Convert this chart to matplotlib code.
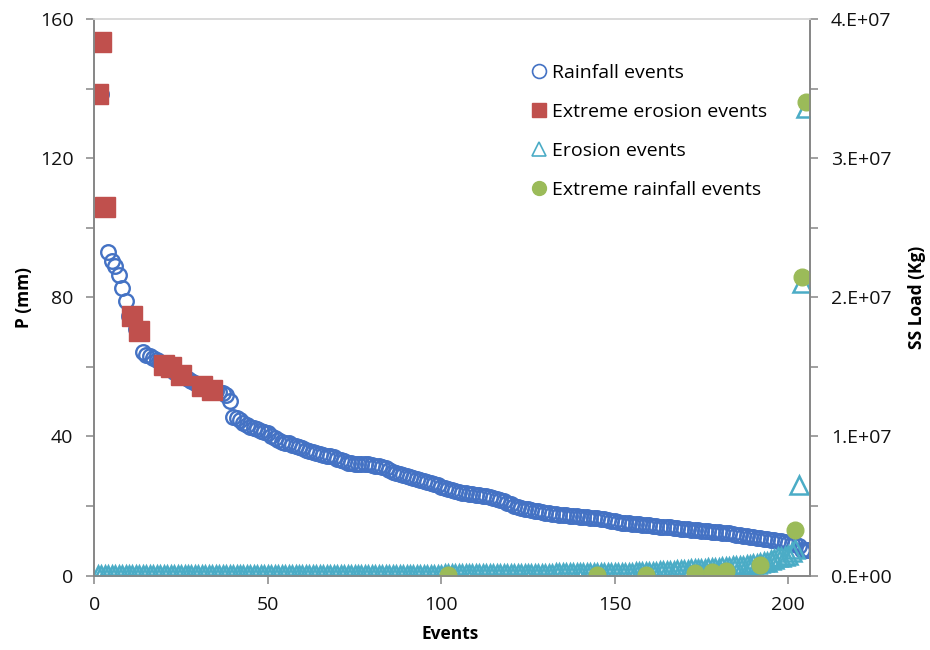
import matplotlib
matplotlib.use('Agg')
import matplotlib.pyplot as plt
from matplotlib.lines import Line2D
from matplotlib.ticker import MultipleLocator, FuncFormatter

plt.rcParams['font.family'] = ['Open Sans', 'DejaVu Sans']

# rainfall depth of each event, ranked (mm)
rain_p = [
    153.5, 138.5, 106.0, 93.0, 90.3, 88.9, 86.5, 82.7, 79.0, 74.5,
    74.0, 71.0, 70.2, 64.4, 63.5, 63.0, 62.5, 62.0, 61.5, 60.5,
    60.0, 59.5, 58.5, 57.8, 57.5, 57.0, 56.5, 56.0, 55.5, 55.0,
    54.5, 54.0, 53.8, 53.4, 53.0, 52.8, 52.5, 52.0, 50.3, 45.7,
    45.3, 44.8, 44.0, 43.2, 42.8, 42.3, 42.0, 41.6, 41.4, 41.0,
    40.2, 39.6, 39.0, 38.5, 38.2, 38.0, 37.6, 37.3, 37.1, 36.7,
    36.2, 35.7, 35.4, 35.2, 35.0, 34.7, 34.5, 34.3, 34.1, 33.6,
    33.2, 32.8, 32.4, 32.3, 32.2, 32.2, 32.1, 32.1, 32.0, 31.8,
    31.6, 31.4, 31.2, 30.8, 30.3, 29.9, 29.5, 29.3, 29.0, 28.7,
    28.3, 28.0, 27.7, 27.4, 27.1, 26.9, 26.6, 26.3, 26.0, 25.6,
    25.2, 25.0, 24.6, 24.3, 24.0, 23.8, 23.6, 23.5, 23.4, 23.3,
    23.2, 23.0, 22.8, 22.6, 22.4, 22.1, 21.8, 21.4, 21.0, 20.5,
    20.0, 19.7, 19.4, 19.2, 19.0, 18.9, 18.7, 18.5, 18.3, 18.1,
    18.0, 17.8, 17.6, 17.5, 17.4, 17.3, 17.2, 17.1, 17.0, 16.9,
    16.8, 16.7, 16.6, 16.5, 16.5, 16.4, 16.2, 16.0, 15.8, 15.6,
    15.4, 15.2, 15.1, 15.0, 14.9, 14.8, 14.7, 14.6, 14.5, 14.4,
    14.3, 14.2, 14.1, 14.1, 14.0, 13.9, 13.8, 13.6, 13.5, 13.4,
    13.3, 13.2, 13.1, 13.0, 12.9, 12.8, 12.7, 12.6, 12.5, 12.4,
    12.3, 12.2, 12.1, 12.0, 11.8, 11.6, 11.5, 11.3, 11.2, 11.0,
    10.9, 10.7, 10.6, 10.4, 10.3, 10.1, 10.0, 9.8, 9.6, 9.4,
    9.2, 9.0, 8.6, 7.4, 7.3, 7.3,
]
rain_x = list(range(1, len(rain_p) + 1))

ext_erosion_x = [2, 1, 3, 11, 13, 20, 22, 25, 31, 34]
ext_erosion_p = [153.5, 138.5, 106.0, 74.5, 70.2, 60.5, 60.0, 57.7, 54.4, 53.4]

# SS load of each event, ranked (x 1e5 kg)
erosion_load_e5 = [
    0.2, 0.2, 0.2, 0.2, 0.2, 0.2, 0.2, 0.2, 0.2, 0.2,
    0.3, 0.3, 0.3, 0.3, 0.3, 0.3, 0.3, 0.3, 0.3, 0.3,
    0.3, 0.3, 0.3, 0.3, 0.3, 0.3, 0.3, 0.3, 0.3, 0.3,
    0.4, 0.4, 0.4, 0.4, 0.4, 0.4, 0.4, 0.4, 0.4, 0.4,
    0.4, 0.4, 0.4, 0.4, 0.4, 0.4, 0.4, 0.4, 0.4, 0.4,
    0.4, 0.4, 0.4, 0.4, 0.4, 0.4, 0.4, 0.4, 0.4, 0.4,
    0.5, 0.5, 0.5, 0.5, 0.5, 0.5, 0.5, 0.5, 0.5, 0.5,
    0.5, 0.5, 0.5, 0.5, 0.5, 0.6, 0.6, 0.6, 0.6, 0.6,
    0.6, 0.6, 0.6, 0.6, 0.6, 0.6, 0.6, 0.6, 0.6, 0.6,
    0.7, 0.7, 0.7, 0.7, 0.7, 0.7, 0.7, 0.7, 0.7, 0.7,
    0.8, 0.8, 0.8, 0.8, 0.8, 0.8, 0.8, 0.8, 0.8, 0.8,
    0.9, 0.9, 0.9, 0.9, 0.9, 0.9, 1.0, 1.0, 1.0, 1.0,
    1.1, 1.1, 1.1, 1.2, 1.2, 1.2, 1.3, 1.3, 1.3, 1.4,
    1.4, 1.4, 1.5, 1.5, 1.5, 1.5, 1.6, 1.6, 1.6, 1.6,
    1.7, 1.7, 1.7, 1.7, 1.7, 1.8, 1.8, 1.9, 1.9, 2.0,
    2.0, 2.1, 2.1, 2.2, 2.2, 2.3, 2.3, 2.4, 2.4, 2.5,
    2.6, 2.8, 3.0, 3.2, 3.3, 3.5, 3.6, 3.8, 3.9, 4.0,
    4.2, 4.4, 4.6, 4.7, 4.9, 5.0, 5.2, 5.4, 5.6, 5.8,
    6.0, 6.2, 6.4, 6.6, 6.8, 7.0, 7.2, 7.4, 7.6, 8.0,
    8.5, 9.0, 9.5, 10.0, 11.0, 12.0, 13.0, 13.7, 14.0, 15.0,
    17.0, 19.0, 65.0, 210.0, 336.0,
]
erosion_x = list(range(1, len(erosion_load_e5) + 1))
erosion_load = [v * 1e5 for v in erosion_load_e5]

ext_rain_x = [102, 145, 159, 173, 178, 182, 192, 202, 204, 205]
ext_rain_load = [0.4e5, 0.4e5, 0.4e5, 1.6e5, 2.8e5, 3.5e5, 7.6e5, 3.28e6, 2.148e7, 3.405e7]

BLUE = '#4472C4'
RED = '#C0504D'
CYAN = '#4BACC6'
GREEN = '#9BBB59'
AXIS_GREY = '#868686'

fig = plt.figure(figsize=(9.3, 6.5), dpi=100)
ax = fig.add_axes([0.1014, 0.1145, 0.7696, 0.8563])
ax2 = ax.twinx()

ax.plot(rain_x, rain_p, 'o', mfc='none', mec=BLUE, ms=10.5, mew=1.7)
ax.plot(ext_erosion_x, ext_erosion_p, 's', color=RED, ms=14)
ax2.plot(erosion_x, erosion_load, '^', mfc='none', mec=CYAN, ms=13, mew=1.8)
ax2.plot(ext_rain_x, ext_rain_load, 'o', color=GREEN, ms=12)

ax.set_xlim(0, 206.3)
ax.set_ylim(0, 160)
ax2.set_ylim(0, 4e7)

ax.xaxis.set_major_locator(MultipleLocator(50))
ax.yaxis.set_major_locator(MultipleLocator(40))
ax.yaxis.set_minor_locator(MultipleLocator(20))
ax2.yaxis.set_major_locator(MultipleLocator(1e7))
ax2.yaxis.set_minor_locator(MultipleLocator(5e6))


def sci_fmt(v, pos):
    if v == 0:
        return '0.E+00'
    return f'{v / 1e7:.0f}.E+07'


ax2.yaxis.set_major_formatter(FuncFormatter(sci_fmt))

for a in (ax, ax2):
    a.tick_params(which='both', direction='out', length=6, width=1.1,
                  color=AXIS_GREY, labelsize=14, pad=9, labelcolor='#111111')
    for s in a.spines.values():
        s.set_color(AXIS_GREY)
        s.set_linewidth(1.2)
    a.spines['top'].set_color('#D9D9D9')

ax.set_xlabel('Events', fontsize=12.5, fontweight='bold')
ax.set_ylabel('P (mm)', fontsize=12.5, fontweight='bold')
ax2.set_ylabel('SS Load (Kg)', fontsize=12.5, fontweight='bold')
ax.xaxis.set_label_coords(0.497, -0.088)
ax.yaxis.set_label_coords(-0.085, 0.5)
ax2.yaxis.set_label_coords(1.137, 0.5)

handles = [
    Line2D([], [], ls='none', marker='o', mfc='none', mec=BLUE, ms=10, mew=1.2),
    Line2D([], [], ls='none', marker='s', color=RED, ms=10),
    Line2D([], [], ls='none', marker='^', mfc='none', mec=CYAN, ms=10, mew=1.2),
    Line2D([], [], ls='none', marker='o', color=GREEN, ms=10),
]
labels = ['Rainfall events', 'Extreme erosion events', 'Erosion events', 'Extreme rainfall events']
fig.legend(handles, labels, loc='upper left', bbox_to_anchor=(0.571, 0.902),
           frameon=False, fontsize=14, handlelength=0.8, handletextpad=0.3,
           labelspacing=1.09, borderaxespad=0, borderpad=0)

plt.savefig('out.png', dpi=100)
plt.close()
